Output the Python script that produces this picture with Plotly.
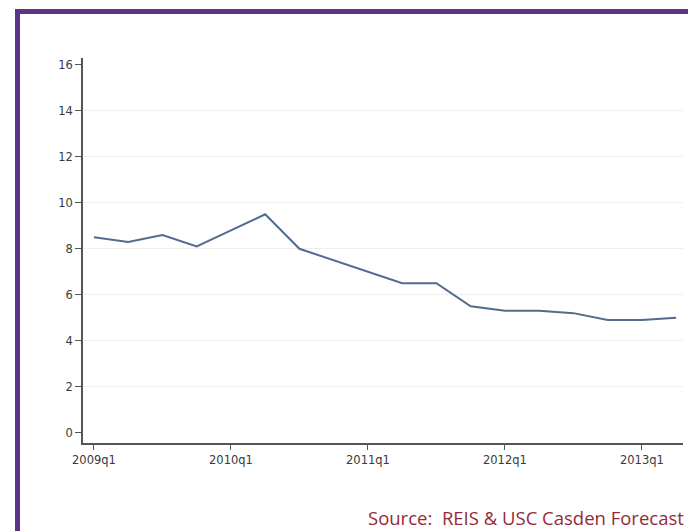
import plotly.graph_objects as go

quarters = ["2009q1","2009q2","2009q3","2009q4","2010q1","2010q2","2010q3","2010q4",
            "2011q1","2011q2","2011q3","2011q4","2012q1","2012q2","2012q3","2012q4",
            "2013q1","2013q2"]
values = [8.5, 8.3, 8.6, 8.1, 8.8, 9.5, 8.0, 7.5, 7.0, 6.5, 6.5, 5.5, 5.3, 5.3, 5.2, 4.9, 4.9, 5.0]
x_tick_labels = ["2009q1", "2010q1", "2011q1", "2012q1", "2013q1"]
y_ticks = [0, 2, 4, 6, 8, 10, 12, 14, 16]
y_grid = [2, 4, 6, 8, 10, 12, 14]
source_text = "Source:  REIS &amp; USC Casden Forecast"

xidx = list(range(len(quarters)))
x_tick_vals = [quarters.index(q) for q in x_tick_labels]

W, H = 688, 531
L, R, T, B = 83, 5, 58, 88
pw, ph = W - L - R, H - T - B

def px_x(p):
    return (p - L) / pw

def px_y(p):
    return (H - B - p) / ph

fig = go.Figure()
fig.add_trace(go.Scatter(x=xidx, y=values, mode="lines",
                         line=dict(color="#506c8e", width=2),
                         hoverinfo="skip", showlegend=False))
# invisible trace on grid axis
fig.add_trace(go.Scatter(x=[xidx[0]], y=[values[0]], yaxis="y2", mode="markers",
                         marker=dict(opacity=0), showlegend=False, hoverinfo="skip"))

yr = [-0.45, 16.3]
tickfont = dict(family="DejaVu Sans, sans-serif", size=11.5, color="#3a3a3a")
fig.update_layout(
    width=W, height=H,
    margin=dict(l=L, r=R, t=T, b=B),
    paper_bgcolor="white", plot_bgcolor="white",
    font=dict(family="DejaVu Sans, sans-serif", size=11, color="#3a3a3a"),
    xaxis=dict(range=[-0.32, 17.2], tickvals=x_tick_vals, ticktext=x_tick_labels,
               showgrid=False, zeroline=False, showline=True, linecolor="#555555",
               linewidth=1.5, ticks="outside", ticklen=5, tickcolor="#555555",
               tickfont=tickfont),
    yaxis=dict(range=yr, tickvals=y_ticks, showgrid=False, zeroline=False,
               showline=True, linecolor="#555555", linewidth=1.5, ticks="outside",
               ticklen=6, tickcolor="#555555", tickfont=tickfont),
    yaxis2=dict(range=yr, tickvals=y_grid, overlaying="y", showgrid=True,
                gridcolor="#efefef", gridwidth=1, showticklabels=False,
                zeroline=False, showline=False, ticks=""),
    shapes=[dict(type="rect", xref="paper", yref="paper",
                 x0=px_x(17.5), x1=px_x(705), y0=px_y(560), y1=px_y(11.5),
                 line=dict(color="#5e3289", width=5), layer="above")],
    annotations=[dict(text=source_text, xref="paper", yref="paper",
                      x=px_x(686), y=px_y(517), xanchor="right", yanchor="middle",
                      showarrow=False,
                      font=dict(family="Open Sans, sans-serif", size=18.5, color="#962a3c"))],
)
fig.write_html("out.html", config={"displayModeBar": False},
               post_script="document.body.style.margin='0';")
